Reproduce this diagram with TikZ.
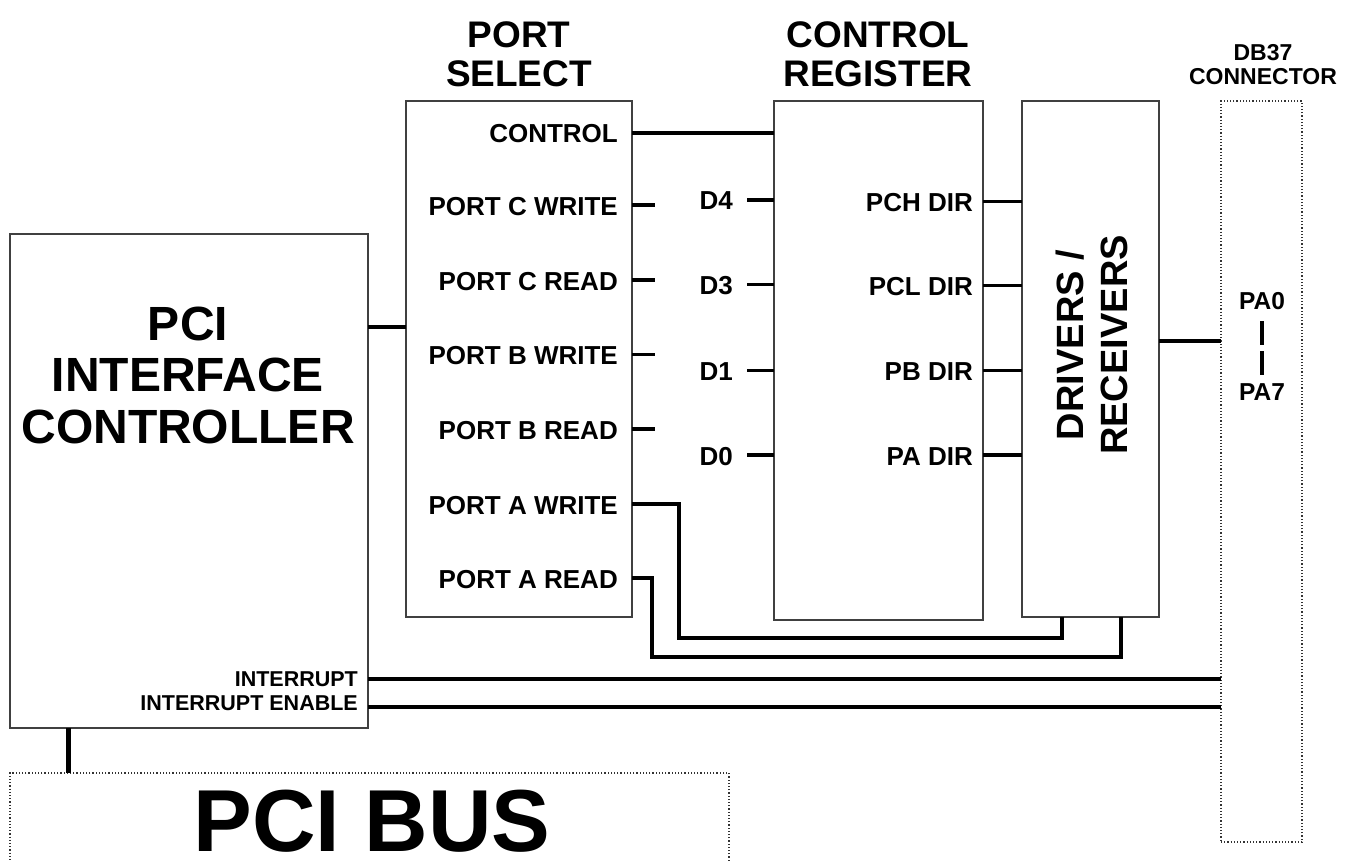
\documentclass[tikz,border=0pt]{standalone}
\usepackage{fontspec}
\setmainfont{Liberation Sans}
\begin{document}
\begin{tikzpicture}[x=1pt,y=-1pt,
  box/.style={draw=black!75, line width=1.3pt, inner sep=0pt, outer sep=0pt, anchor=north west},
  dotbox/.style={draw=black!80, line width=1.2pt, dotted, inner sep=0pt, outer sep=0pt, anchor=north west},
  wire/.style={line width=4pt, line cap=butt},
  stub/.style={line width=3.5pt, line cap=butt},
  lbl/.style={font=\fontsize{26}{28}\selectfont\bfseries, inner sep=0pt, anchor=base east},
  smlbl/.style={font=\fontsize{21.5}{24}\selectfont\bfseries, inner sep=0pt, anchor=base east},
  ttl/.style={font=\fontsize{37}{44}\selectfont\bfseries, inner sep=0pt, align=center, anchor=base},
]
\useasboundingbox (0,0) rectangle (1365,861);

% ---- boxes
\node[box, minimum width=358pt, minimum height=494pt] (pci) at (10,234) {};
\node[box, minimum width=226pt, minimum height=516pt] (ps) at (406,101) {};
\node[box, minimum width=209pt, minimum height=519pt] (cr) at (774,101) {};
\node[box, minimum width=137pt, minimum height=516pt] (dr) at (1022,101) {};
\node[dotbox, minimum width=81pt, minimum height=741pt] (db) at (1221,101) {};
\node[dotbox, minimum width=719pt, minimum height=140pt] (bus) at (10,773) {};

% ---- titles
\node[ttl] (t1) at (519,48) {PORT};
\node[ttl] (t2) at (519,87) {SELECT};
\node[ttl] (t3) at (878,48) {CONTROL};
\node[ttl] (t4) at (878,87) {REGISTER};
\node[font=\fontsize{23}{25}\selectfont\bfseries, inner sep=0pt, anchor=base] (t5) at (1263,61) {DB37};
\node[font=\fontsize{23}{25}\selectfont\bfseries, inner sep=0pt, anchor=base] (t6) at (1263,85) {CONNECTOR};

% ---- PCI interface controller text
\node[font=\fontsize{48}{51}\selectfont\bfseries, inner sep=0pt, anchor=base] (p1) at (188,340) {PCI};
\node[font=\fontsize{48}{51}\selectfont\bfseries, inner sep=0pt, anchor=base] (p2) at (188,391) {INTERFACE};
\node[font=\fontsize{48}{51}\selectfont\bfseries, inner sep=0pt, anchor=base] (p3) at (188,443) {CONTROLLER};

% ---- PCI BUS
\node[font=\fontsize{88}{90}\selectfont\bfseries, inner sep=0pt, anchor=base] (pb) at (372,851) {PCI BUS};

% ---- drivers / receivers
\node[font=\fontsize{38}{44}\selectfont\bfseries, inner sep=0pt, align=center, rotate=90] (drt) at (1092,345) {DRIVERS /\\RECEIVERS};

% ---- port select labels
\node[lbl] (lc)  at (618,143) {CONTROL};
\node[lbl] (lcw) at (618,215) {PORT C WRITE};
\node[lbl] (lcr) at (618,290) {PORT C READ};
\node[lbl] (lbw) at (618,364.5) {PORT B WRITE};
\node[lbl] (lbr) at (618,439) {PORT B READ};
\node[lbl] (law) at (618,514) {PORT A WRITE};
\node[lbl] (lar) at (618,588) {PORT A READ};

% ---- control register labels
\node[lbl] (d4) at (733,210) {D4};
\node[lbl] (d3) at (733,294.3) {D3};
\node[lbl] (d1) at (733,380.7) {D1};
\node[lbl] (d0) at (733,465) {D0};
\node[lbl] (r1) at (973,211.7) {PCH DIR};
\node[lbl] (r2) at (973,295.7) {PCL DIR};
\node[lbl] (r3) at (973,380.7) {PB DIR};
\node[lbl] (r4) at (973,465) {PA DIR};

% ---- interrupt labels
\node[smlbl] (i1) at (358,686.7) {INTERRUPT};
\node[smlbl] (i2) at (358,710.7) {INTERRUPT ENABLE};

% ---- connector pins
\node[font=\fontsize{24.5}{26}\selectfont\bfseries, inner sep=0pt, anchor=base] (pa0) at (1262,309.3) {PA0};
\node[font=\fontsize{24.5}{26}\selectfont\bfseries, inner sep=0pt, anchor=base] (pa7) at (1262,400) {PA7};
\coordinate (bar1a) at (1262,321); \coordinate (bar1b) at (1262,345);
\coordinate (bar2a) at (1262,351); \coordinate (bar2b) at (1262,375);
\draw[line width=3.5pt] (bar1a) -- (bar1b);
\draw[line width=3.5pt] (bar2a) -- (bar2b);

% ---- coordinates for wires
\coordinate (cPCI) at (387,327);
\coordinate (cCTL) at (700,133);
\coordinate (sCW) at (655,205);
\coordinate (sCR) at (655,280);
\coordinate (sBW) at (655,354.5);
\coordinate (sBR) at (655,429);
\coordinate (sD4) at (747,200);
\coordinate (sD3) at (747,284.3);
\coordinate (sD1) at (747,370.7);
\coordinate (sD0) at (747,455);
\coordinate (sR1) at (1000,201.7);
\coordinate (sR2) at (1000,285.7);
\coordinate (sR3) at (1000,370.7);
\coordinate (sR4) at (1000,455);
\coordinate (cOUT) at (1190,341);
\coordinate (aw1) at (679,504);
\coordinate (aw2) at (679,638);
\coordinate (aw3) at (1062,638);
\coordinate (ar1) at (652,578);
\coordinate (ar2) at (652,657);
\coordinate (ar3) at (1121,657);
\coordinate (cI1) at (800,679);
\coordinate (cI2) at (800,707);
\coordinate (cBUS) at (68,750);

% ---- wires
\draw[wire] (pci.east |- cPCI) -- (ps.west |- cPCI);
\draw[wire] (ps.east |- cCTL) -- (cr.west |- cCTL);
\draw[stub] (ps.east |- sCW) -- (sCW);
\draw[stub] (ps.east |- sCR) -- (sCR);
\draw[stub] (ps.east |- sBW) -- (sBW);
\draw[stub] (ps.east |- sBR) -- (sBR);
\draw[stub] (sD4) -- (cr.west |- sD4);
\draw[stub] (sD3) -- (cr.west |- sD3);
\draw[stub] (sD1) -- (cr.west |- sD1);
\draw[stub] (sD0) -- (cr.west |- sD0);
\draw[stub] (cr.east |- sR1) -- (dr.west |- sR1);
\draw[stub] (cr.east |- sR2) -- (dr.west |- sR2);
\draw[stub] (cr.east |- sR3) -- (dr.west |- sR3);
\draw[stub] (cr.east |- sR4) -- (dr.west |- sR4);
\draw[wire] (dr.east |- cOUT) -- (db.west |- cOUT);
\draw[wire, line join=miter] (ps.east |- aw1) -- (aw1) -- (aw2) -- (aw3) -- (dr.south -| aw3);
\draw[wire, line join=miter] (ps.east |- ar1) -- (ar1) -- (ar2) -- (ar3) -- (dr.south -| ar3);
\draw[line width=4.5pt] (pci.east |- cI1) -- (db.west |- cI1);
\draw[line width=4.5pt] (pci.east |- cI2) -- (db.west |- cI2);
\draw[line width=5pt] (pci.south -| cBUS) -- (bus.north -| cBUS);
\end{tikzpicture}
\end{document}
